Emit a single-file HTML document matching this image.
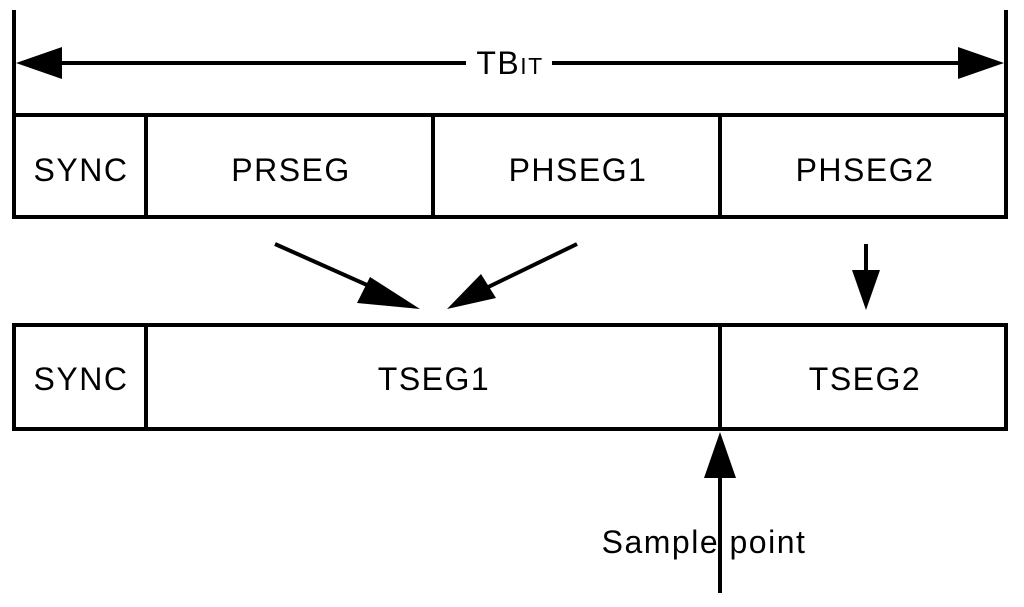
<!DOCTYPE html>
<html><head><style>body{margin:0;background:#fff}</style></head><body>
<svg width="1024" height="602" xmlns="http://www.w3.org/2000/svg" font-family="Liberation Sans, sans-serif" font-size="32" letter-spacing="1.5">
<g stroke="#000" stroke-width="4" fill="none">
<line x1="14" y1="10" x2="14" y2="218"/>
<line x1="1006" y1="10" x2="1006" y2="218"/>
<line x1="55" y1="63" x2="466" y2="63"/>
<line x1="552" y1="63" x2="965" y2="63"/>
<rect x="14" y="115" width="992" height="102"/>
<line x1="146" y1="115" x2="146" y2="217"/>
<line x1="433" y1="115" x2="433" y2="217"/>
<line x1="720" y1="115" x2="720" y2="217"/>
<rect x="14" y="325" width="992" height="104"/>
<line x1="146" y1="325" x2="146" y2="429"/>
<line x1="720" y1="325" x2="720" y2="429"/>
<line x1="275" y1="244" x2="385" y2="293"/>
<line x1="577" y1="244" x2="480" y2="291"/>
<line x1="866" y1="244" x2="866" y2="275"/>
<line x1="720" y1="470" x2="720" y2="593"/>
</g>
<g fill="#000">
<polygon points="16,63 62,47 62,79"/>
<polygon points="1004,63 958,47 958,79"/>
<polygon points="420,309 370,277 357,303"/>
<polygon points="447,309 481,274 496,298"/>
<polygon points="866,310 852,270 880,270"/>
<polygon points="720,432 704,478 736,478"/>
</g>
<g text-anchor="middle" fill="#000">
<text x="81" y="181">SYNC</text>
<text x="291" y="181">PRSEG</text>
<text x="578" y="181">PHSEG1</text>
<text x="865" y="181">PHSEG2</text>
<text x="81" y="390">SYNC</text>
<text x="434" y="390">TSEG1</text>
<text x="865" y="390">TSEG2</text>
<text x="510" y="74">TB<tspan font-size="23">IT</tspan></text>
<text x="704" y="553">Sample point</text>
</g>
</svg>
</body></html>
